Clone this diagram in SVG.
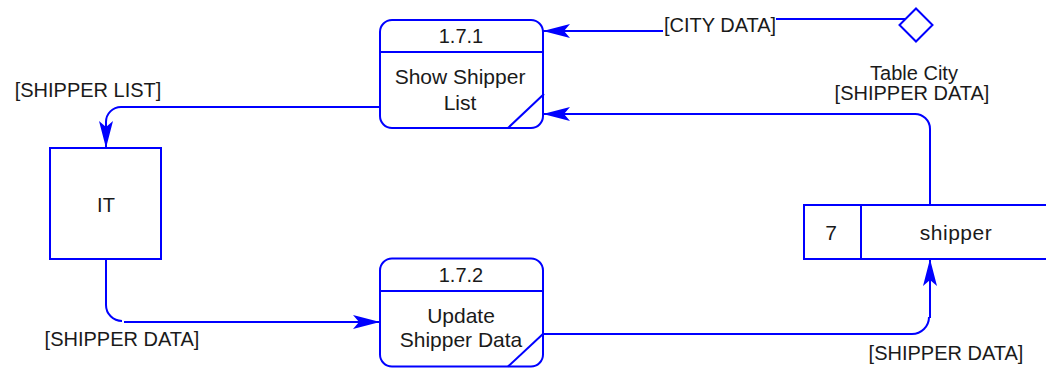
<svg xmlns="http://www.w3.org/2000/svg" width="1046" height="369" viewBox="0 0 1046 369">
<style>
.shape{fill:#fff;stroke:#0000ff;stroke-width:2}
.ln{fill:none;stroke:#0000ff;stroke-width:2}
text{font-family:"Liberation Sans",Arial,sans-serif;font-size:20px;fill:#1a1a1a;text-anchor:middle}
.big{font-size:21px}
</style>
<defs>
<marker id="ah" markerUnits="userSpaceOnUse" markerWidth="30" markerHeight="16" viewBox="-28 -8 30 16" refX="0" refY="0" orient="auto">
<path d="M0,0 L-27,-7 L-21,0 L-27,7 Z" fill="#0000ff"/>
</marker>
</defs>
<rect width="1046" height="369" fill="#fff"/>
<g id="connectors">
<path class="ln" d="M663,31 H543" marker-end="url(#ah)"/>
<path class="ln" d="M776,19 H906"/>
<path class="ln" d="M380,107 H121 A15,15 0 0 0 106,122 V148" marker-end="url(#ah)"/>
<path class="ln" d="M106,259 V305 A16,16 0 0 0 122,321 M124,322 H380" marker-end="url(#ah)"/>
<path class="ln" d="M543,334 H912 A17,17 0 0 0 929,317 M930,318 V259" marker-end="url(#ah)"/>
<path class="ln" d="M930,205 V129 A15,15 0 0 0 914,114 H543" marker-end="url(#ah)"/>
</g>
<g id="labels">
<text x="720" y="32">[CITY DATA]</text>
<text x="88" y="97">[SHIPPER LIST]</text>
<text x="122" y="346">[SHIPPER DATA]</text>
<text x="946" y="360">[SHIPPER DATA]</text>
<text x="914" y="80">Table City</text>
<text x="912" y="100">[SHIPPER DATA]</text>
</g>
<g id="citydata">
<polygon class="shape" points="916,8.5 932.5,25 916,41.5 899.5,25"/>
</g>
<g id="p171">
<rect class="shape" x="380" y="20" width="163" height="108" rx="12"/>
<line class="ln" x1="380" y1="52" x2="543" y2="52"/>
<line class="ln" x1="508" y1="128" x2="544" y2="94"/>
<text x="461" y="43">1.7.1</text>
<text class="big" x="460" y="84">Show Shipper</text>
<text class="big" x="460" y="110">List</text>
</g>
<g id="it">
<rect class="shape" x="50" y="148" width="111" height="111"/>
<text x="106" y="212">IT</text>
</g>
<g id="p172">
<rect class="shape" x="380" y="258.5" width="163" height="108" rx="12"/>
<line class="ln" x1="380" y1="291" x2="543" y2="291"/>
<line class="ln" x1="508" y1="366.5" x2="544" y2="333"/>
<text x="461" y="282">1.7.2</text>
<text class="big" x="461" y="323">Update</text>
<text class="big" x="461" y="347">Shipper Data</text>
</g>
<g id="store7">
<path class="ln" d="M1048,205 H804 V259 H1048 M861,205 V259"/>
<text class="big" x="831" y="240">7</text>
<text class="big" x="956" y="240" letter-spacing="0.5">shipper</text>
</g>
</svg>
